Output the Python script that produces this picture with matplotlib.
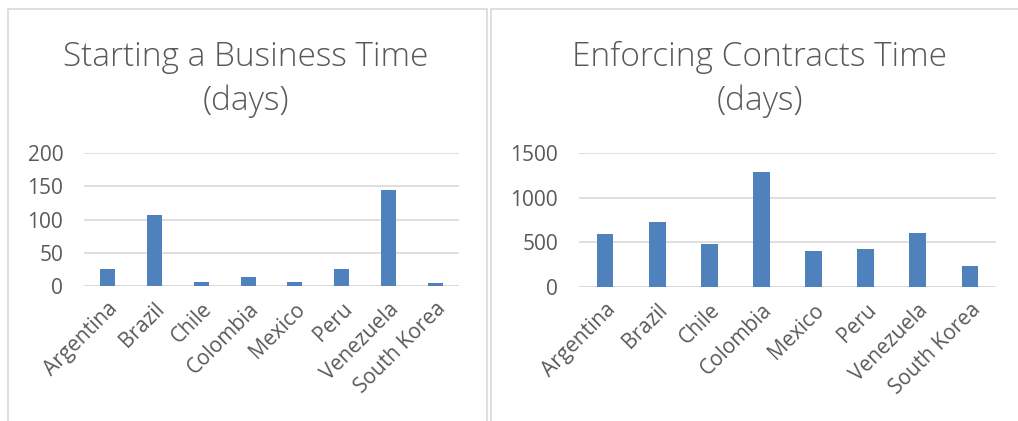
import matplotlib.pyplot as plt
from matplotlib.patches import Rectangle

countries = ['Argentina', 'Brazil', 'Chile', 'Colombia', 'Mexico', 'Peru', 'Venezuela', 'South Korea']
start_business_days = [25, 107.5, 5.5, 14, 6, 25, 144, 4]
enforce_contracts_days = [590, 731, 480, 1288, 400, 426, 610, 230]

bar_color = '#4F81BD'
text_color = '#595959'
grid_color = '#D9D9D9'

plt.rcParams['font.family'] = ['Open Sans', 'DejaVu Sans']

fig = plt.figure(figsize=(10.18, 4.21), dpi=100)
W, H = 1018, 421

# chart frames
for x0, x1 in [(8, 487), (491, 1030)]:
    fig.patches.append(Rectangle((x0 / W, -0.1), (x1 - x0) / W, 1.1 - 9 / H,
                                 transform=fig.transFigure, fill=False,
                                 edgecolor='#D9D9D9', linewidth=1.2))


def draw(rect, values, ymax, step, title, title_x):
    ax = fig.add_axes(rect)
    x = range(len(values))
    ax.bar(x, values, width=0.32, color=bar_color, zorder=3)
    ax.set_ylim(0, ymax)
    ax.set_xlim(-0.5, len(values) - 0.5)
    ax.set_yticks(range(0, ymax + 1, step))
    ax.yaxis.grid(True, color=grid_color, linewidth=1.2, zorder=0)
    for s in ax.spines.values():
        s.set_visible(False)
    ax.axhline(0, color=grid_color, linewidth=1.2, zorder=2)
    ax.tick_params(length=0, labelsize=15, colors=text_color)
    ax.tick_params(axis='y', pad=15)
    ax.tick_params(axis='x', pad=9)
    ax.set_xticks(list(x))
    ax.set_xticklabels(countries, rotation=45, ha='right', rotation_mode='anchor')
    fig.text(title_x / W, 1 - 79 / H, title, ha='center', va='center',
             fontsize=24, color=text_color, fontweight='light', linespacing=1.4)
    return ax


draw([84 / W, 1 - 286 / H, 375 / W, 133 / H], start_business_days, 200, 50,
     'Starting a Business Time\n(days)', 246)
draw([579 / W, 1 - 287 / H, 417 / W, 134 / H], enforce_contracts_days, 1500, 500,
     'Enforcing Contracts Time\n(days)', 760)

fig.savefig('out.png', dpi=100, facecolor='white')
